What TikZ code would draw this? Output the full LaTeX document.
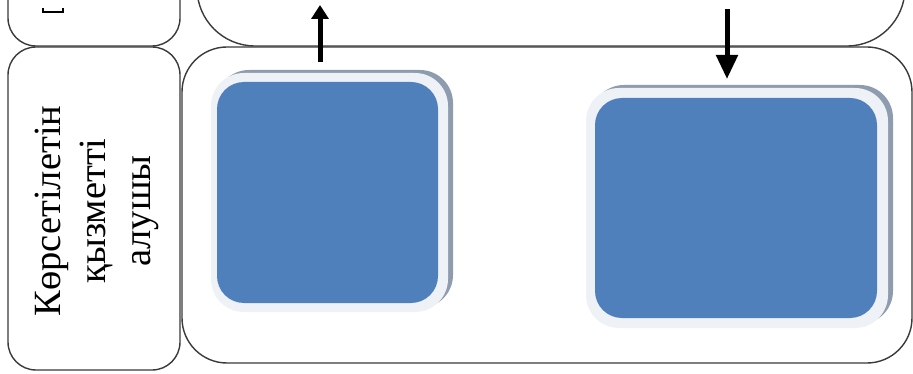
\documentclass[tikz,border=0pt]{standalone}
\usepackage{fontspec}
\setmainfont{Liberation Serif}
\usetikzlibrary{arrows.meta}
\definecolor{edge}{HTML}{3A3A3A}
\definecolor{bluefill}{HTML}{4F80BC}
\definecolor{framefill}{HTML}{EEF1F6}
\definecolor{shadowfill}{HTML}{8E9CB0}
\tikzset{
  lane/.style={draw=edge, line width=1.4pt, fill=white},
  flow/.style={line width=5pt, draw=black, -{Triangle[width=17pt,length=14pt]}},
  lanelabel/.style={rotate=90, align=center, font=\fontsize{38.5}{45}\selectfont, inner sep=0pt}
}
\begin{document}
\begin{tikzpicture}[x=1pt,y=-1pt]
\useasboundingbox (0,0) rectangle (913,374);
\clip (0,0) rectangle (913,374);
\fill[white] (0,0) rectangle (913,374);
% upper lanes (cut by the top edge)
\draw[lane, rounded corners=28pt] (8,-60) rectangle (180,46);
\draw[lane, rounded corners=58pt] (197,-120) rectangle (905,46);
% fragment of the upper-left label
\draw[line width=1.6pt] (42,12) -- (64,12);
\draw[line width=1.2pt] (43,8.5) -- (43,12) (63,8.5) -- (63,12);
% lower lanes
\draw[lane, rounded corners=28pt] (8,47) rectangle (180,370);
\draw[lane, rounded corners=45pt] (182,47) rectangle (912,363);
\node[lanelabel] (lbl) at (97,211) {Көрсетілетін\\қызметті\\алушы};
% blue boxes
\fill[shadowfill, rounded corners=33pt] (216,70) rectangle (453,308);
\fill[framefill, rounded corners=33pt] (211,73) rectangle (448,312);
\fill[bluefill, rounded corners=27pt] (217,82) rectangle (438,303);
\node[inner sep=0pt, minimum width=221pt, minimum height=221pt] (b1) at (327.5,192.5) {};
\fill[shadowfill, rounded corners=33pt] (591,85) rectangle (893,324);
\fill[framefill, rounded corners=33pt] (586,88) rectangle (888,328);
\fill[bluefill, rounded corners=27pt] (595,98) rectangle (877,318);
\node[inner sep=0pt, minimum width=282pt, minimum height=220pt] (b2) at (736,208) {};
% arrows
\coordinate (upend) at (320,5);
\coordinate (downstart) at (727,9);
\coordinate (upstart) at (320,62);
\coordinate (downend) at (727,79);
\draw[flow] (upstart) -- (upend);
\draw[flow, -{Triangle[width=21pt,length=24pt]}] (downstart) -- (downend);
\end{tikzpicture}
\end{document}
